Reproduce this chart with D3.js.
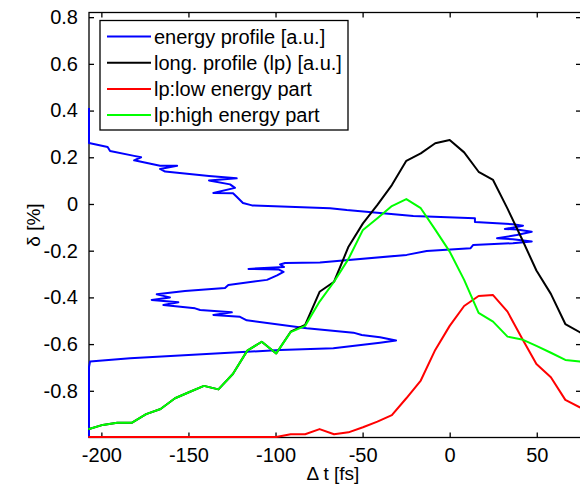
<!DOCTYPE html>
<html>
<head>
<meta charset="utf-8">
<script src="https://cdn.jsdelivr.net/npm/d3@7"></script>
<style>
  html, body { margin: 0; padding: 0; background: #fff; }
  svg { display: block; }
  text { font-family: "Liberation Sans", Arial, sans-serif; fill: #000; }
</style>
</head>
<body>
<svg id="chart" width="580" height="486"></svg>
<script>
// Time samples of the longitudinal profiles [fs]
const times = [-207.5, -199.2, -190.9, -182.6, -174.3, -166.0, -157.7, -149.4, -141.1, -132.8,
  -124.5, -116.2, -107.9, -99.6, -91.3, -83.0, -74.7, -66.4, -58.1, -49.8,
  -41.5, -33.2, -24.9, -16.6, -8.3, 0, 8.3, 16.6, 24.9, 33.2,
  41.5, 49.8, 58.1, 66.4, 74.7, 83.0];

// Longitudinal profile (lp), scaled onto the δ axis
const longProfile = [-0.965, -0.946, -0.937, -0.937, -0.900, -0.878, -0.832, -0.805, -0.779, -0.794,
  -0.728, -0.628, -0.590, -0.640, -0.547, -0.518, -0.376, -0.333, -0.183, -0.083,
  -0.004, 0.081, 0.185, 0.217, 0.260, 0.274, 0.221, 0.138, 0.103, -0.020,
  -0.150, -0.285, -0.385, -0.514, -0.549, -0.580];

// lp: low energy part
const lowEnergy = [-0.998, -0.998, -0.998, -0.998, -0.998, -0.998, -0.998, -0.998, -0.998, -0.998,
  -0.998, -0.998, -0.998, -0.998, -0.986, -0.986, -0.964, -0.986, -0.978, -0.956,
  -0.932, -0.904, -0.832, -0.756, -0.625, -0.522, -0.437, -0.394, -0.390, -0.461,
  -0.575, -0.685, -0.742, -0.839, -0.871, -0.900];

// lp: high energy part
const highEnergy = [-0.965, -0.946, -0.937, -0.937, -0.900, -0.878, -0.832, -0.805, -0.779, -0.794,
  -0.728, -0.628, -0.590, -0.640, -0.549, -0.522, -0.418, -0.333, -0.235, -0.111,
  -0.061, -0.009, 0.021, -0.018, -0.110, -0.204, -0.325, -0.466, -0.504, -0.568,
  -0.580, -0.608, -0.637, -0.668, -0.675, -0.680];

// Energy profile: δ samples and the profile value drawn along the time axis
const energyDelta = [0.411, 0.283, 0.261, 0.244, 0.227, 0.206, 0.200, 0.187, 0.164, 0.164,
  0.150, 0.139, 0.120, 0.110, 0.101, 0.084, 0.069, 0.047, 0.046, 0.031,
  0.004, -0.006, -0.018, -0.026, -0.051, -0.061, -0.077, -0.087, -0.093, -0.107,
  -0.109, -0.119, -0.133, -0.147, -0.151, -0.161, -0.168, -0.176, -0.190, -0.201,
  -0.218, -0.251, -0.253, -0.259, -0.270, -0.278, -0.281, -0.291, -0.306, -0.325,
  -0.347, -0.360, -0.373, -0.387, -0.400, -0.411, -0.421, -0.433, -0.447, -0.454,
  -0.464, -0.475, -0.483, -0.498, -0.532, -0.551, -0.561, -0.571, -0.585, -0.594,
  -0.618, -0.625, -0.661, -0.675, -0.698, -1.000];
const energyProfile = [-207.1, -207.1, -207.1, -196.4, -195.0, -181.2, -177.2, -181.2, -166.3, -156.5,
  -166.3, -163.4, -138.2, -122.3, -138.2, -126.1, -123.3, -135.7, -124.4, -122.3,
  -118.7, -113.5, -68.7, -59.1, -20.9, 14.5, 14.5, 36.3, 42.1, 31.7,
  38.6, 47.1, 38.5, 27.2, 36.3, 47.1, 36.3, 13.4, 11.9, -13.2,
  -24.7, -74.5, -94.5, -97.4, -95.1, -115.5, -98.0, -95.4, -99.1, -104.9,
  -127.1, -129.0, -152.0, -168.2, -160.6, -171.1, -155.8, -164.4, -146.2, -143.3,
  -125.1, -135.7, -120.4, -116.5, -82.1, -55.3, -50.5, -40.0, -30.8, -40.0,
  -66.8, -97.4, -183.5, -206.5, -207.1, -207.1];

const xTicks = [-200, -150, -100, -50, 0, 50];
const yTicks = [-0.8, -0.6, -0.4, -0.2, 0, 0.2, 0.4, 0.6, 0.8];

const legendLabels = ["energy profile [a.u.]", "long. profile (lp) [a.u.]", "lp:low energy part", "lp:high energy part"];
const seriesColors = ["#0000ff", "#000000", "#ff0000", "#00ff00"];

const plot = { left: 89, right: 581, top: 12.5, bottom: 437.5 };
const svg = d3.select("#chart");

const x = d3.scaleLinear().domain([-207.1, 75.4]).range([plot.left, plot.right]);
const y = d3.scaleLinear().domain([-1, 0.82]).range([plot.bottom, plot.top]);

const fontSize = "20px";
const tickLen = 5;

// Box
svg.append("rect")
  .attr("x", plot.left).attr("y", plot.top)
  .attr("width", plot.right - plot.left).attr("height", plot.bottom - plot.top)
  .attr("fill", "none").attr("stroke", "#000").attr("stroke-width", 1.3);

// Axes with inward ticks on all four sides
const xAxisB = d3.axisBottom(x).tickValues(xTicks).tickSizeInner(-tickLen).tickSizeOuter(0).tickPadding(10).tickFormat(d3.format("d"));
const xAxisT = d3.axisTop(x).tickValues(xTicks).tickSizeInner(-tickLen).tickSizeOuter(0).tickFormat("");
const yAxisL = d3.axisLeft(y).tickValues(yTicks).tickSizeInner(-tickLen).tickSizeOuter(0).tickPadding(11)
  .tickFormat(d => d === 0 ? "0" : d3.format(".1f")(d).replace("−", "-"));
const yAxisR = d3.axisRight(y).tickValues(yTicks).tickSizeInner(-tickLen).tickSizeOuter(0).tickFormat("");

function styleAxis(g) {
  g.select(".domain").remove();
  g.selectAll(".tick line").attr("stroke", "#000").attr("stroke-width", 1.3);
  g.selectAll(".tick text").style("font-size", fontSize)
    .style("font-family", '"Liberation Sans", Arial, sans-serif').attr("fill", "#000");
}

svg.append("g").attr("transform", `translate(0,${plot.bottom})`).call(xAxisB).call(styleAxis)
  .selectAll(".tick text").text(d => String(d).replace("−", "-"));
svg.append("g").attr("transform", `translate(0,${plot.top})`).call(xAxisT).call(styleAxis);
svg.append("g").attr("transform", `translate(${plot.left},0)`).call(yAxisL).call(styleAxis);
svg.append("g").attr("transform", `translate(${plot.right},0)`).call(yAxisR).call(styleAxis);

// Axis titles
svg.append("text")
  .attr("x", (plot.left + plot.right) / 2 - 2).attr("y", 480)
  .attr("text-anchor", "middle").style("font-size", "19px")
  .text("Δ t [fs]");
svg.append("text")
  .attr("transform", `translate(40,${(plot.top + plot.bottom) / 2}) rotate(-90)`)
  .attr("text-anchor", "middle").style("font-size", "19px")
  .text("δ [%]");

// Data
svg.append("defs").append("clipPath").attr("id", "plotClip")
  .append("rect").attr("x", plot.left - 1.5).attr("y", plot.top - 1.5)
  .attr("width", plot.right - plot.left + 3).attr("height", plot.bottom - plot.top + 3);

const dataG = svg.append("g").attr("clip-path", "url(#plotClip)");
const line = d3.line().x(d => x(d[0])).y(d => y(d[1]));

const energySeries = energyProfile.map((v, i) => [v, energyDelta[i]]);
const profileSeries = [longProfile, lowEnergy, highEnergy].map(vals => times.map((t, i) => [t, vals[i]]));
const allSeries = [energySeries, ...profileSeries];

allSeries.forEach((s, i) => {
  dataG.append("path").datum(s)
    .attr("d", line)
    .attr("fill", "none")
    .attr("stroke", seriesColors[i])
    .attr("stroke-width", 2)
    .attr("stroke-linejoin", "round");
});

// Legend
const lg = svg.append("g");
lg.append("rect")
  .attr("x", 100).attr("y", 20.5).attr("width", 248).attr("height", 109.5)
  .attr("fill", "#fff").attr("stroke", "#000").attr("stroke-width", 1.3);
legendLabels.forEach((lab, i) => {
  const yy = 36.5 + i * 26.2;
  lg.append("line").attr("x1", 107).attr("x2", 151).attr("y1", yy).attr("y2", yy)
    .attr("stroke", seriesColors[i]).attr("stroke-width", 2);
  lg.append("text").attr("x", 154).attr("y", yy).attr("dy", "0.35em")
    .style("font-size", fontSize).text(lab);
});
</script>
</body>
</html>
